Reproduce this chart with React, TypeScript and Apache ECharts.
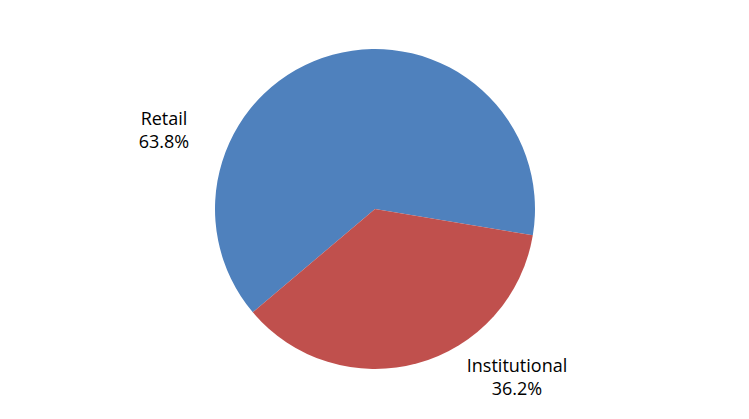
import { useEffect, useRef } from 'react';
import * as echarts from 'echarts';
import type { EChartsOption } from 'echarts';

const categories = ['Retail', 'Institutional'];
const shares = [63.8, 36.2];
const colors = ['#4F81BD', '#C0504D'];

// where the two labels sit (pixel centres, as in the original)
const labelSpots = [
  { x: 164, y: 129 },
  { x: 517, y: 376 },
];

export default function App() {
  const chartRef = useRef<HTMLDivElement>(null);

  useEffect(() => {
    if (!chartRef.current) return;
    document.body.style.margin = '0';

    const chart = echarts.init(chartRef.current, null, { renderer: 'svg' });

    const option: EChartsOption = {
      animation: false,
      backgroundColor: '#ffffff',
      color: colors,
      series: [
        {
          type: 'pie',
          center: [375, 209],
          radius: 160,
          startAngle: 220.2,
          clockwise: true,
          avoidLabelOverlap: false,
          itemStyle: { borderWidth: 0 },
          label: {
            show: true,
            position: 'outside',
            formatter: (p: any) => `${p.name}\n${p.value.toFixed(1)}%`,
            fontFamily: '"Open Sans", sans-serif',
            fontSize: 18,
            lineHeight: 23,
            color: '#000000',
            align: 'center',
          },
          labelLine: { show: false },
          labelLayout: (params: any) => ({
            x: labelSpots[params.dataIndex].x,
            y: labelSpots[params.dataIndex].y,
            align: 'center',
            verticalAlign: 'middle',
          }),
          emphasis: { disabled: true },
          data: categories.map((name, i) => ({ name, value: shares[i] })),
        },
      ],
    };

    chart.setOption(option);

    return () => {
      chart.dispose();
    };
  }, []);

  return <div ref={chartRef} style={{ width: 749, height: 419 }} />;
}
